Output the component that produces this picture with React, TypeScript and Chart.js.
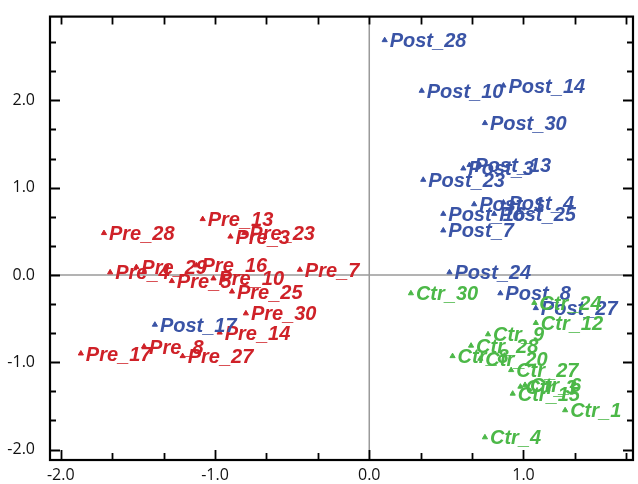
import React, { useEffect, useRef } from 'react';
import { Chart, registerables } from 'chart.js';

Chart.register(...registerables);

// ---- Data ----
const ctrLabels = ['Ctr_30', 'Ctr_24', 'Ctr_12', 'Ctr_9', 'Ctr_28', 'Ctr_8', 'Ctr_20', 'Ctr_27', 'Ctr_3', 'Ctr_6', 'Ctr_15', 'Ctr_1', 'Ctr_4'];
const ctrX = [0.27, 1.07, 1.08, 0.77, 0.66, 0.54, 0.72, 0.92, 0.98, 1.01, 0.93, 1.27, 0.75];
const ctrY = [-0.21, -0.32, -0.55, -0.68, -0.81, -0.93, -0.96, -1.09, -1.28, -1.26, -1.36, -1.55, -1.86];

const postLabels = ['Post_28', 'Post_10', 'Post_14', 'Post_30', 'Post_3', 'Post_13', 'Post_23', 'Post_1', 'Post_4', 'Post_16', 'Post_25', 'Post_7', 'Post_24', 'Post_8', 'Post_27', 'Post_17'];
const postX = [0.10, 0.34, 0.87, 0.75, 0.61, 0.65, 0.35, 0.68, 0.87, 0.48, 0.81, 0.48, 0.52, 0.85, 1.08, -1.39];
const postY = [2.69, 2.11, 2.17, 1.74, 1.22, 1.26, 1.09, 0.81, 0.83, 0.70, 0.70, 0.51, 0.03, -0.21, -0.38, -0.57];

const preLabels = ['Pre_28', 'Pre_13', 'Pre_3', 'Pre_23', 'Pre_4', 'Pre_29', 'Pre_16', 'Pre_7', 'Pre_5', 'Pre_10', 'Pre_25', 'Pre_30', 'Pre_14', 'Pre_17', 'Pre_8', 'Pre_27'];
const preX = [-1.72, -1.08, -0.90, -0.81, -1.68, -1.51, -1.12, -0.45, -1.28, -1.01, -0.89, -0.80, -0.97, -1.87, -1.46, -1.21];
const preY = [0.48, 0.64, 0.44, 0.48, 0.03, 0.09, 0.11, 0.06, -0.07, -0.04, -0.19, -0.44, -0.66, -0.90, -0.82, -0.93];

const xTickValues = [-2, -1, 0, 1];
const yTickValues = [-2, -1, 0, 1, 2];
const minorPerMajor = 3;

const X_MIN = -2.07;
const X_MAX = 1.71;
const Y_MIN = -2.12;
const Y_MAX = 2.96;

const RED = '#cf2128';
const BLUE = '#3a54a6';
const GREEN = '#4cb848';

const LABEL_FONT = 'italic bold 20px "Liberation Sans", Arial, sans-serif';
const TICK_FONT_FAMILY = '"Open Sans", "Liberation Sans", sans-serif';

function makePoints(xs: number[], ys: number[]) {
  return xs.map((x, i) => ({ x, y: ys[i] }));
}

const labelsPlugin = {
  id: 'pointLabels',
  beforeDatasetsDraw(chart: any) {
    const { ctx, chartArea, scales } = chart;
    const x0 = scales.x.getPixelForValue(0);
    const y0 = scales.y.getPixelForValue(0);
    ctx.save();
    ctx.strokeStyle = '#9a9a9a';
    ctx.lineWidth = 1.5;
    ctx.beginPath();
    ctx.moveTo(x0, chartArea.top);
    ctx.lineTo(x0, chartArea.bottom);
    ctx.moveTo(chartArea.left, y0);
    ctx.lineTo(chartArea.right, y0);
    ctx.stroke();
    ctx.restore();
  },
  afterDatasetDraw(chart: any, args: any) {
    const { ctx } = chart;
    const ds = chart.data.datasets[args.index];
    const meta = args.meta;
    ctx.save();
    ctx.font = LABEL_FONT;
    ctx.fillStyle = ds.textColor;
    ctx.textAlign = 'left';
    ctx.textBaseline = 'alphabetic';
    meta.data.forEach((el: any, i: number) => {
      ctx.fillText(ds.names[i], el.x + 5, el.y + 7);
    });
    ctx.restore();
  },
  afterDraw(chart: any) {
    const { ctx, chartArea, scales } = chart;
    const { left, right, top, bottom } = chartArea;
    ctx.save();
    ctx.strokeStyle = '#000';
    ctx.lineWidth = 2.2;
    ctx.strokeRect(left, top, right - left, bottom - top);
    ctx.lineWidth = 1.8;
    ctx.beginPath();
    const kx0 = Math.ceil(X_MIN * minorPerMajor);
    const kx1 = Math.floor(X_MAX * minorPerMajor);
    for (let k = kx0; k <= kx1; k++) {
      const px = Math.round(scales.x.getPixelForValue(k / minorPerMajor)) + 0.5;
      const major = k % minorPerMajor === 0;
      const lenB = major ? 10 : 7;
      ctx.moveTo(px, bottom);
      ctx.lineTo(px, bottom - lenB);
      ctx.moveTo(px, top);
      ctx.lineTo(px, top + 8);
    }
    const ky0 = Math.ceil(Y_MIN * minorPerMajor);
    const ky1 = Math.floor(Y_MAX * minorPerMajor);
    for (let k = ky0; k <= ky1; k++) {
      const py = Math.round(scales.y.getPixelForValue(k / minorPerMajor)) + 0.5;
      const major = k % minorPerMajor === 0;
      const len = major ? 10 : 6;
      ctx.moveTo(left, py);
      ctx.lineTo(left + len, py);
      ctx.moveTo(right, py);
      ctx.lineTo(right - len, py);
    }
    ctx.stroke();
    ctx.restore();
  },
};

export default function App() {
  const canvasRef = useRef<HTMLCanvasElement | null>(null);

  useEffect(() => {
    const canvas = canvasRef.current;
    if (!canvas) return;
    const mk = (names: string[], xs: number[], ys: number[], color: string) => ({
      data: makePoints(xs, ys),
      names,
      textColor: color,
      pointStyle: 'triangle',
      pointRadius: 3,
      pointBackgroundColor: color,
      pointBorderColor: color,
      pointBorderWidth: 1,
      showLine: false,
    });
    const chart = new Chart(canvas, {
      type: 'scatter',
      data: {
        datasets: [
          mk(ctrLabels, ctrX, ctrY, GREEN),
          mk(postLabels, postX, postY, BLUE),
          mk(preLabels, preX, preY, RED),
        ] as any,
      },
      options: {
        animation: false,
        responsive: false,
        devicePixelRatio: 1,
        layout: { padding: { top: 14, right: 2, left: 0, bottom: 0 } },
        plugins: { legend: { display: false }, tooltip: { enabled: false } },
        scales: {
          x: {
            type: 'linear',
            min: X_MIN,
            max: X_MAX,
            grid: { display: false },
            border: { display: false },
            afterBuildTicks: (s: any) => {
              s.ticks = xTickValues.map((v) => ({ value: v }));
            },
            afterFit: (s: any) => {
              s.height = 24;
            },
            ticks: {
              autoSkip: false,
              maxRotation: 0,
              padding: -2,
              color: '#111',
              font: { family: TICK_FONT_FAMILY, size: 16 },
              callback: (v: any) => Number(v).toFixed(1),
            },
          },
          y: {
            type: 'linear',
            min: Y_MIN,
            max: Y_MAX,
            grid: { display: false },
            border: { display: false },
            afterBuildTicks: (s: any) => {
              s.ticks = yTickValues.map((v) => ({ value: v }));
            },
            afterFit: (s: any) => {
              s.width = 50;
            },
            ticks: {
              autoSkip: false,
              padding: 7,
              color: '#111',
              font: { family: TICK_FONT_FAMILY, size: 16 },
              callback: (v: any) => Number(v).toFixed(1),
            },
          },
        },
      },
      plugins: [labelsPlugin],
    } as any);
    return () => chart.destroy();
  }, []);

  return (
    <div style={{ position: 'fixed', left: 0, top: 0, width: 638, height: 484, background: '#fff' }}>
      <canvas ref={canvasRef} width={638} height={484} style={{ display: 'block' }} />
    </div>
  );
}
